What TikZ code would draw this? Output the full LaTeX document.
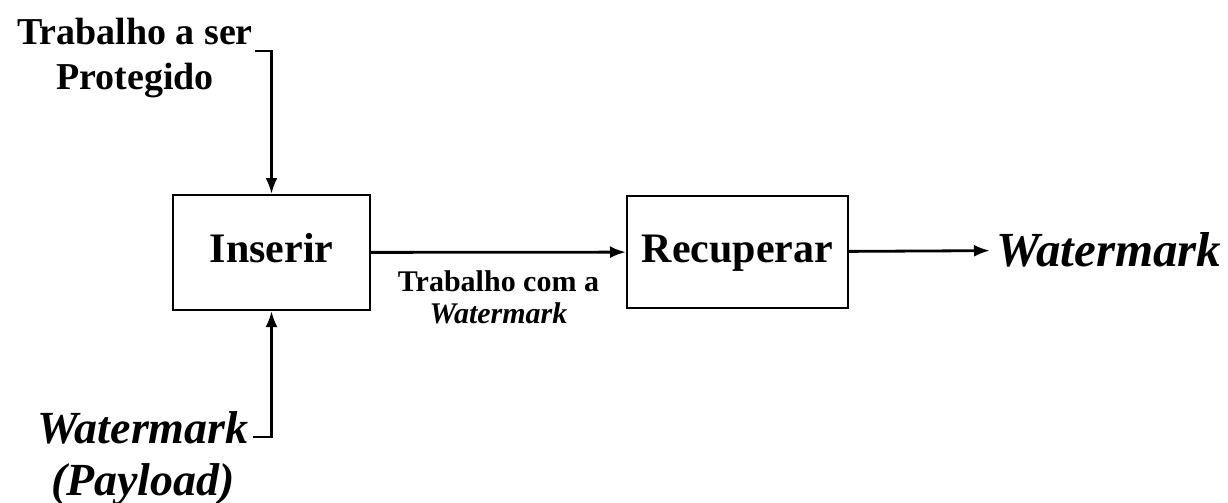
\documentclass[tikz,border=0pt]{standalone}
\usepackage{fontspec}
\setmainfont{Liberation Serif}
\usetikzlibrary{arrows.meta, positioning}
\tikzset{
  block/.style={
    rectangle, draw=black, line width=1pt,
    font=\fontsize{21}{24}\selectfont\bfseries,
    text height=1.1em, text depth=0.1em
  },
  biglabel/.style={
    align=center,
    font=\fontsize{19}{22.5}\selectfont\bfseries
  },
  wmlabel/.style={
    align=center,
    font=\fontsize{23}{26}\selectfont\bfseries\itshape
  },
  smalllabel/.style={
    align=center,
    font=\fontsize{15}{16}\selectfont\bfseries
  },
  conn/.style={
    line width=1.4pt,
    -{Latex[length=8pt,width=6pt]}
  }
}

\begin{document}
\begin{tikzpicture}[x=0.5pt, y=-0.5pt]
  \useasboundingbox (0,0) rectangle (1228,503);

  \node[block, minimum width=98.5pt, minimum height=57.5pt] (inserir) at (271.5,252.5) {Inserir};
  \node[block, minimum width=110.5pt, minimum height=56pt] (recuperar) at (737.5,252) {Recuperar};

  \node[biglabel] (trabalho) at (135,58) {Trabalho a ser\\Protegido};
  \node[wmlabel] (payload) at (143,459) {Watermark\\(Payload)};
  \node[wmlabel, font=\fontsize{24.5}{28}\selectfont\bfseries\itshape, anchor=west, inner sep=3pt] (wmout) at (990,250) {Watermark};

  % free ends of the two input lines
  \coordinate (topin) at (255,51);
  \coordinate (botin) at (253,437);

  \draw[conn] (topin) -| (inserir.north);
  \draw[conn] (botin) -| (inserir.south);
  \draw[conn] (inserir) -- (recuperar)
    node[smalllabel, midway, below, yshift=-5pt] (marcado) {Trabalho com a\\\textit{Watermark}};
  \draw[conn] (recuperar) -- (wmout);
\end{tikzpicture}
\end{document}
